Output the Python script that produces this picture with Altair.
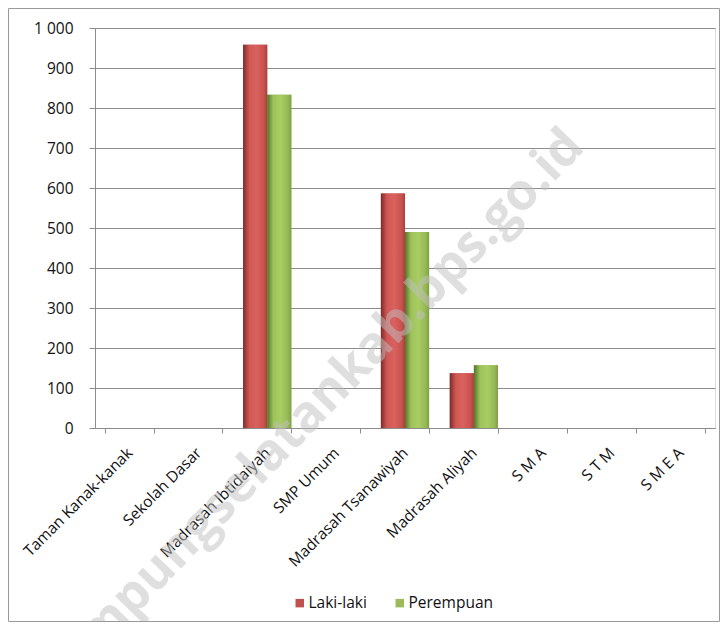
import altair as alt
import pandas as pd

categories = ["Taman Kanak-kanak", "Sekolah Dasar", "Madrasah Ibtidaiyah", "SMP Umum",
              "Madrasah Tsanawiyah", "Madrasah Aliyah", "S M A", "S T M", "S M E A"]
series = ["Laki-laki", "Perempuan"]
laki = [0, 0, 958, 0, 586, 137, 0, 0, 0]
perempuan = [0, 0, 833, 0, 490, 157, 0, 0, 0]
y_ticks = [0, 100, 200, 300, 400, 500, 600, 700, 800, 900, 1000]
colors = ["#C0504D", "#9BBB59"]
watermark = "lampungselatankab.bps.go.id"

rows = []
for c, a, b in zip(categories, laki, perempuan):
    rows.append({"Kategori": c, "Jenis": series[0], "Jumlah": a})
    rows.append({"Kategori": c, "Jenis": series[1], "Jumlah": b})
df = pd.DataFrame(rows)

FONT = "Open Sans"
W, H = 620, 400

base = alt.Chart(df).encode(
    x=alt.X("Kategori:N", sort=categories,
            scale=alt.Scale(paddingInner=0.3, paddingOuter=0.15),
            axis=alt.Axis(title=None, labelAngle=315, labelAlign="right", labelBaseline="middle",
                          labelFontSize=15.5, labelColor="#111111", labelFont=FONT,
                          tickBand="extent", tickSize=5, tickColor="#8c8c8c",
                          domainColor="#8c8c8c", labelPadding=17, grid=False)),
    xOffset=alt.XOffset("Jenis:N", sort=series),
    y=alt.Y("Jumlah:Q", scale=alt.Scale(domain=[0, 1000], nice=False),
            axis=alt.Axis(title=None, values=y_ticks,
                          labelExpr="replace(format(datum.value, ','), ',', ' ')",
                          labelFontSize=15.5, labelColor="#111111", labelFont=FONT,
                          tickSize=6, tickColor="#8c8c8c", domainColor="#8c8c8c",
                          labelPadding=16, grid=True, gridColor="#8c8c8c")),
)

flat = base.mark_bar().encode(
    color=alt.Color("Jenis:N", sort=series,
                    scale=alt.Scale(domain=series, range=colors),
                    legend=alt.Legend(title=None, orient="none", legendX=197, legendY=567,
                                      direction="horizontal", symbolType="square",
                                      symbolSize=72, symbolStrokeWidth=0, labelOffset=1,
                                      labelFontSize=15.5, labelFont=FONT, labelColor="#111111",
                                      columnPadding=25))
)

red_grad = alt.Gradient(gradient="linear", x1=0, x2=1, y1=0, y2=0, stops=[
    alt.GradientStop(color="#7d2b29", offset=0),
    alt.GradientStop(color="#cf5754", offset=0.25),
    alt.GradientStop(color="#d9625f", offset=0.55),
    alt.GradientStop(color="#c9524f", offset=0.85),
    alt.GradientStop(color="#a8413e", offset=1),
])
green_grad = alt.Gradient(gradient="linear", x1=0, x2=1, y1=0, y2=0, stops=[
    alt.GradientStop(color="#55732a", offset=0),
    alt.GradientStop(color="#9dc25a", offset=0.25),
    alt.GradientStop(color="#a9cd63", offset=0.55),
    alt.GradientStop(color="#97b955", offset=0.85),
    alt.GradientStop(color="#7f9f45", offset=1),
])

red = base.transform_filter(alt.datum.Jenis == series[0]).mark_bar(fill=red_grad)
green = base.transform_filter(alt.datum.Jenis == series[1]).mark_bar(fill=green_grad)

wm = alt.Chart(pd.DataFrame({"t": [watermark]})).mark_text(
    fontSize=51, fontWeight="bold", font=FONT, color="#c0c0c0", opacity=0.5,
    angle=314, align="center", baseline="middle"
).encode(text="t:N", x=alt.value(220), y=alt.value(380))

frame = alt.Chart(pd.DataFrame({"t": [0]})).mark_rect(
    fill=None, stroke="#9a9a9a", strokeWidth=1
).encode(x=alt.value(-86.5), x2=alt.value(624.5), y=alt.value(-19.5), y2=alt.value(593.5))

chart = alt.layer(flat, red, green, wm, frame).properties(
    width=W, height=H,
    autosize=alt.AutoSizeParams(type="none"),
    padding={"left": 87, "top": 20, "right": 5, "bottom": 194},
).configure_view(stroke=None).configure(background="white")

chart.save("out.html", embed_options={"renderer": "svg", "actions": False})
